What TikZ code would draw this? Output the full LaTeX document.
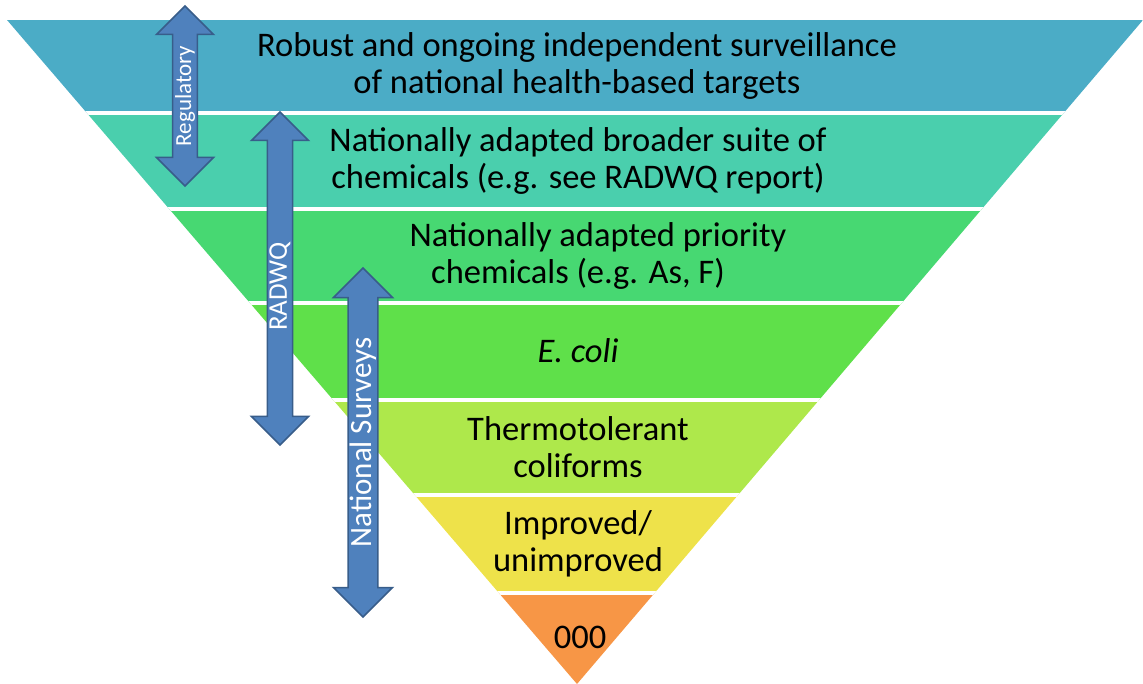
\documentclass[tikz,border=0pt]{standalone}
\usepackage{fontspec}
\setmainfont{Carlito}
\usetikzlibrary{shapes.arrows}

\definecolor{pasmoA}{HTML}{4BACC6}
\definecolor{pasmoB}{HTML}{4ACFAD}
\definecolor{pasmoC}{HTML}{47D872}
\definecolor{pasmoD}{HTML}{5FE04A}
\definecolor{pasmoE}{HTML}{AEE84B}
\definecolor{pasmoF}{HTML}{EEE24A}
\definecolor{pasmoG}{HTML}{F79646}
\definecolor{sipka}{HTML}{4F81BD}
\definecolor{sipkaokraj}{HTML}{385D8A}

\tikzset{
  popis/.style={align=center, font=\fontsize{34.5}{37}\selectfont},
  sipka/.style={double arrow, draw=sipkaokraj, fill=sipka, line width=1.5,
    rotate=90, inner sep=0, text=white, double arrow head extend=14}
}

\begin{document}
\begin{tikzpicture}[x=1pt,y=-1pt]

    \useasboundingbox (0,0) rectangle (1143,684);

    % pásma
    \begin{scope}
        \clip (7,20) -- (1143,20) -- (577,684) -- cycle;
        \foreach \barva/\od/\do in {pasmoA/20/113, pasmoB/113/209, pasmoC/209/303,
            pasmoD/303/400, pasmoE/400/495, pasmoF/495/593, pasmoG/593/684}
            \fill[\barva] (0,\od) rectangle (1143,\do);
        \foreach \y in {113,209,303,400,495,593}
            \draw[white, line width=3.5] (0,\y) -- (1143,\y);
    \end{scope}

    % popisky
    \node[popis] (robust) at (577,66) {Robust and ongoing independent surveillance\\of national health-based targets};
    \node[popis] (broader) at (578,161) {Nationally adapted broader suite of\\chemicals (e.g. see RADWQ report)};
    \node[popis] (priority) at (578,256) {\hspace*{40pt}Nationally adapted priority\\chemicals (e.g. As, F)};
    \node[popis] (ecoli) at (578,351) {\itshape E. coli};
    \node[popis] (thermo) at (578,447) {Thermotolerant\\coliforms};
    \node[popis] (improved) at (578,544) {Improved/\\unimproved};
    \node[popis] (nula) at (580,637) {000};

    % šipky
    \node[sipka, minimum height=180, minimum width=57, font=\fontsize{23}{23}\selectfont]
        (regulatory) at (185,96) {Regulatory};
    \node[sipka, minimum height=333, minimum width=57, font=\fontsize{27}{27}\selectfont]
        (radwq) at (280,278.5) {\hspace*{-16pt}RADWQ};
    \node[sipka, minimum height=349, minimum width=59, font=\fontsize{31}{31}\selectfont]
        (surveys) at (363,442.5) {National Surveys};

\end{tikzpicture}
\end{document}
